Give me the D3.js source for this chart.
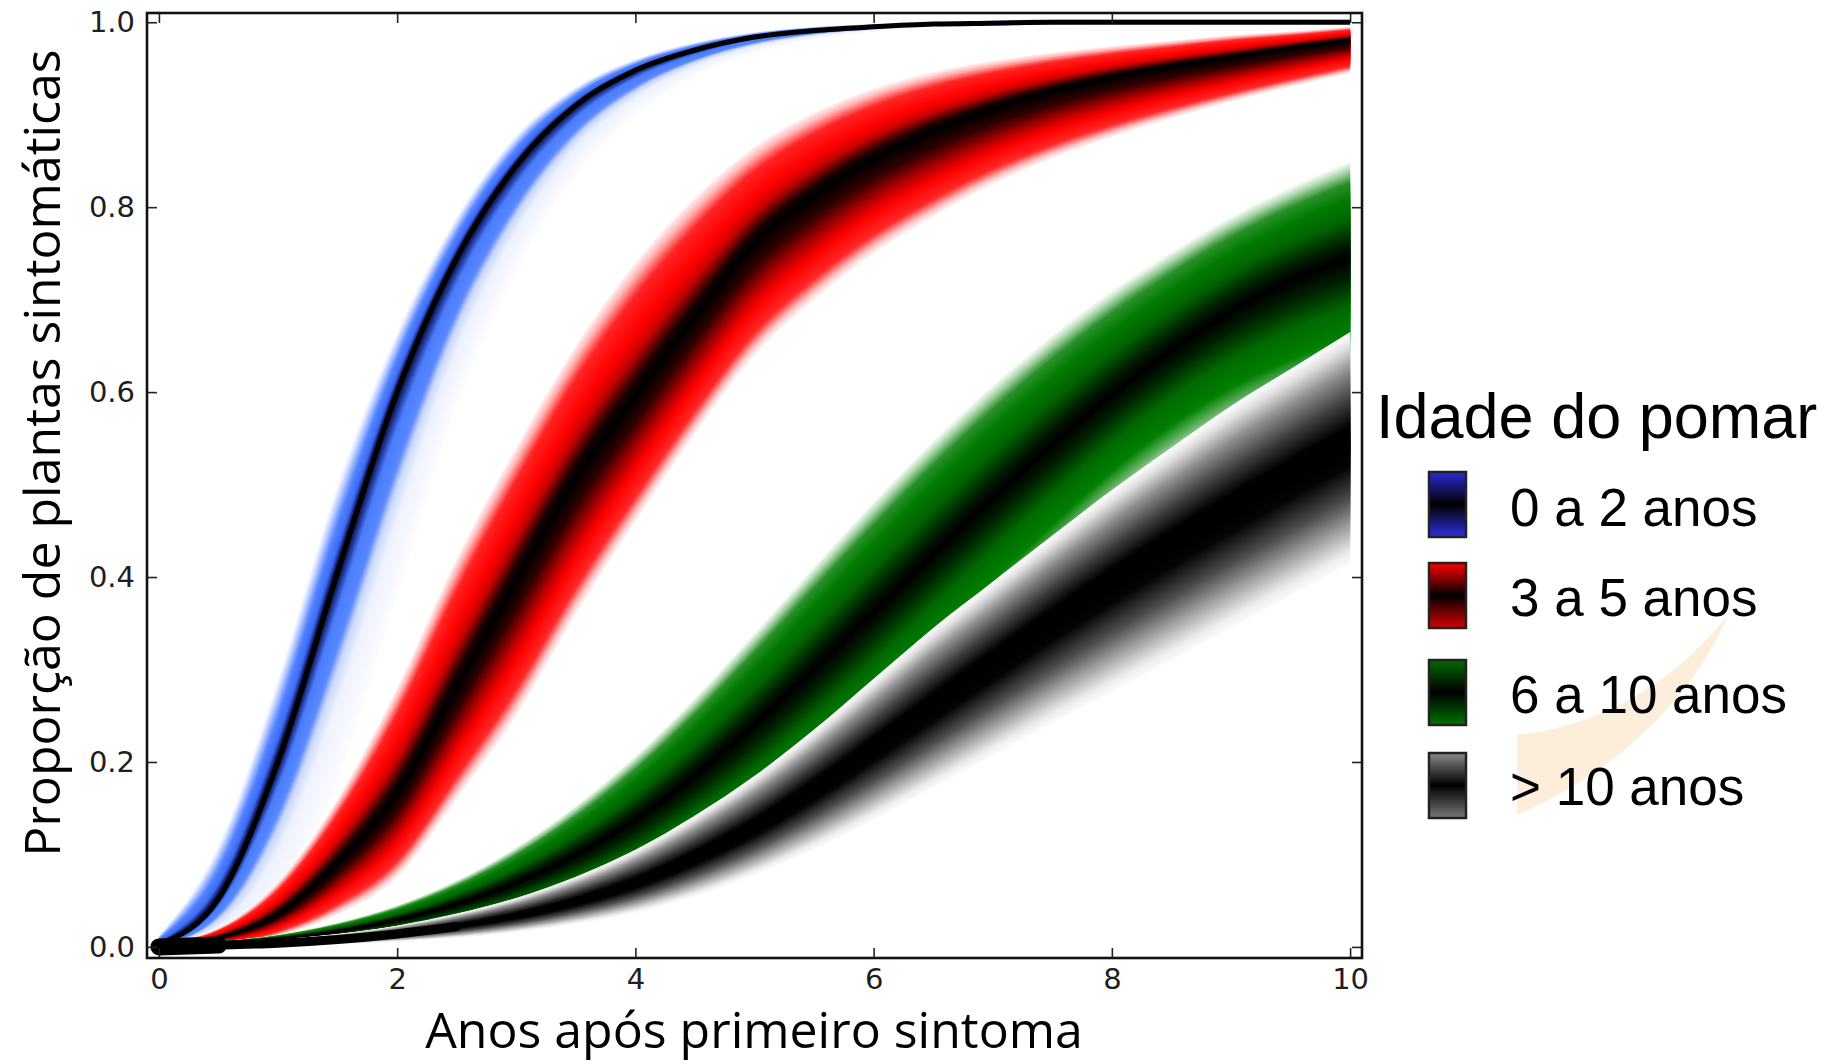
<!DOCTYPE html>
<html>
<head>
<meta charset="utf-8">
<script src="https://cdn.jsdelivr.net/npm/d3@7"></script>
<style>
  html, body { margin: 0; padding: 0; background: #fff; }
  svg { display: block; }
</style>
</head>
<body>
<svg id="chart" width="1834" height="1064"></svg>
<script>
// Years after the first symptom (x grid shared by every series)
const years = [0, 0.5, 1, 1.5, 2, 2.5, 3, 3.5, 4, 4.5, 5, 5.5, 6, 6.5, 7, 7.5, 8, 8.5, 9, 9.5, 10];

// Orchard-age groups shown in the legend
const groupLabels = ["0 a 2 anos", "3 a 5 anos", "6 a 10 anos", "> 10 anos"];

// Proportion of symptomatic plants: central curve and outer edges of each envelope
const blueMean  = [0.003, 0.052, 0.20, 0.405, 0.60, 0.745, 0.845, 0.91, 0.948, 0.97, 0.984, 0.991, 0.995, 0.998, 0.999, 1, 1, 1, 1, 1, 1];
const blueUpper = [0.012, 0.11, 0.29, 0.50, 0.665, 0.79, 0.878, 0.93, 0.96, 0.978, 0.989, 0.995, 0.998, 1.0, 1.002, 1.003, 1.003, 1.003, 1.003, 1.003, 1.003];
const blueLower = [0, 0.004, 0.045, 0.18, 0.38, 0.585, 0.73, 0.835, 0.9, 0.942, 0.967, 0.982, 0.99, 0.994, 0.996, 0.997, 0.998, 0.998, 0.999, 0.999, 0.999];

const redMean  = [0.002, 0.01, 0.035, 0.09, 0.165, 0.28, 0.395, 0.505, 0.595, 0.68, 0.76, 0.812, 0.852, 0.882, 0.906, 0.925, 0.94, 0.952, 0.962, 0.972, 0.981];
const redUpper = [0.004, 0.02, 0.07, 0.16, 0.28, 0.42, 0.54, 0.65, 0.74, 0.81, 0.865, 0.902, 0.928, 0.946, 0.958, 0.967, 0.974, 0.98, 0.986, 0.99, 0.995];
const redLower = [0, 0.003, 0.012, 0.035, 0.075, 0.16, 0.25, 0.36, 0.46, 0.555, 0.64, 0.70, 0.75, 0.79, 0.825, 0.853, 0.876, 0.896, 0.914, 0.93, 0.945];

const greenMean  = [0.002, 0.004, 0.009, 0.017, 0.029, 0.046, 0.069, 0.099, 0.137, 0.185, 0.24, 0.30, 0.362, 0.424, 0.485, 0.543, 0.597, 0.645, 0.687, 0.72, 0.745];
const greenUpper = [0.003, 0.006, 0.013, 0.026, 0.045, 0.072, 0.108, 0.153, 0.207, 0.27, 0.34, 0.412, 0.482, 0.548, 0.608, 0.662, 0.71, 0.752, 0.79, 0.822, 0.85];
const greenLower = [0.001, 0.002, 0.005, 0.008, 0.013, 0.02, 0.03, 0.045, 0.065, 0.095, 0.135, 0.185, 0.24, 0.30, 0.36, 0.42, 0.48, 0.53, 0.57, 0.60, 0.625];

const grayMean  = [0, 0.002, 0.004, 0.008, 0.014, 0.022, 0.033, 0.048, 0.068, 0.095, 0.128, 0.168, 0.212, 0.258, 0.303, 0.348, 0.39, 0.43, 0.468, 0.505, 0.54];
const grayUpper = [0.002, 0.004, 0.008, 0.014, 0.023, 0.036, 0.053, 0.076, 0.105, 0.142, 0.185, 0.235, 0.29, 0.345, 0.395, 0.445, 0.494, 0.54, 0.585, 0.625, 0.665];
const grayLower = [0, 0, 0.001, 0.003, 0.006, 0.01, 0.016, 0.025, 0.037, 0.055, 0.078, 0.106, 0.138, 0.172, 0.207, 0.242, 0.276, 0.31, 0.345, 0.38, 0.415];

// Axis ticks
const xTicks = [0, 2, 4, 6, 8, 10];
const yTicks = [0, 0.2, 0.4, 0.6, 0.8, 1.0];

// ---------------------------------------------------------------------------
const W = 1834, H = 1064;
const plot = { left: 147, right: 1362, top: 13, bottom: 958 };

const x = d3.scaleLinear().domain([-0.1, 10.1]).range([plot.left, plot.right]);
const y = d3.scaleLinear().domain([-0.012, 1.01]).range([plot.bottom, plot.top]);

const svg = d3.select("#chart");
svg.append("rect").attr("width", W).attr("height", H).attr("fill", "#fff");

const defs = svg.append("defs");
defs.append("clipPath").attr("id", "plot-clip")
  .append("rect")
  .attr("x", plot.left).attr("y", plot.top)
  .attr("width", plot.right - plot.left).attr("height", plot.bottom - plot.top);

// Colour ramps: distance from the central curve (0) to the envelope edge (1)
const series = [
  { mean: blueMean, upper: blueUpper, lower: blueLower, swatch: ["#2a2ad8", "#000000", "#3030e0"], core: 5,
    above: [[0, "#000000"], [0.12, "#101a60"], [0.28, "#3d6cf5"], [0.55, "#5585ff"], [0.75, "#a8bfff"], [0.9, "#e2e9ff"], [1, "#fbfcff"]],
    below: [[0, "#000000"], [0.07, "#1a2a80"], [0.18, "#4a7dff"], [0.36, "#5a88ff"], [0.46, "#c8d6ff"], [0.62, "#eef2ff"], [1, "#fcfcff"]] },
  { mean: redMean, upper: redUpper, lower: redLower, swatch: ["#ff0000", "#000000", "#d80000"], core: 3,
    above: [[0, "#000000"], [0.12, "#1a0000"], [0.32, "#c80000"], [0.48, "#ff0000"], [0.75, "#ff2424"], [0.9, "#ffb4b4"], [1, "#fff2f2"]],
    below: [[0, "#000000"], [0.2, "#300000"], [0.42, "#b00000"], [0.58, "#ff0000"], [0.8, "#ff2a2a"], [0.92, "#ffc0c0"], [1, "#fff6f6"]] },
  { mean: greenMean, upper: greenUpper, lower: greenLower, swatch: ["#006a00", "#000000", "#007400"], core: 3,
    above: [[0, "#000000"], [0.14, "#001800"], [0.4, "#006400"], [0.6, "#007a00"], [0.78, "#2a902a"], [0.9, "#a8d4a8"], [1, "#ffffff"]],
    below: [[0, "#000000"], [0.18, "#002000"], [0.45, "#006a00"], [0.7, "#008000"], [0.88, "#70b870"], [1, "#e8f4e8"]] },
  { mean: grayMean, upper: grayUpper, lower: grayLower, swatch: ["#8a8a8a", "#000000", "#7a7a7a"], core: 3,
    above: [[0, "#000000"], [0.18, "#000000"], [0.42, "#404040"], [0.68, "#909090"], [0.88, "#e0e0e0"], [1, "#ffffff"]],
    below: [[0, "#000000"], [0.16, "#050505"], [0.45, "#505050"], [0.7, "#a8a8a8"], [0.9, "#ececec"], [1, "#fafafa"]] }
];

const plotG = svg.append("g").attr("clip-path", "url(#plot-clip)");
const LEVELS = 48;

series.forEach(s => {
  const g = plotG.append("g");
  [[s.upper, s.above], [s.lower, s.below]].forEach(([edge, stops]) => {
    const ramp = d3.scaleLinear()
      .domain(stops.map(d => d[0]))
      .range(stops.map(d => d[1]))
      .interpolate(d3.interpolateRgb);
    for (let k = LEVELS; k >= 1; k--) {
      const t = k / LEVELS;
      const area = d3.area()
        .curve(d3.curveMonotoneX)
        .x((d, i) => x(years[i]))
        .y0((d, i) => y(d))
        .y1((d, i) => y(d + t * (edge[i] - d)));
      g.append("path")
        .datum(s.mean)
        .attr("d", area)
        .attr("fill", ramp(t - 0.5 / LEVELS));
    }
  });
  const line = d3.line().curve(d3.curveMonotoneX)
    .x((d, i) => x(years[i]))
    .y(d => y(d));
  g.append("path")
    .datum(s.mean)
    .attr("d", line)
    .attr("fill", "none")
    .attr("stroke", "#000")
    .attr("stroke-width", s.core)
    .attr("stroke-linejoin", "round");
});

// Overlapping start markers where all curves begin at zero
const startLine = d3.line().curve(d3.curveMonotoneX).x((d, i) => x(years[i])).y(d => y(d));
plotG.append("path")
  .datum(grayMean.slice(0, 2))
  .attr("d", startLine)
  .attr("fill", "none")
  .attr("stroke", "#000")
  .attr("stroke-width", 17)
  .attr("stroke-linecap", "round");
plotG.append("path")
  .datum(grayMean.slice(0, 6))
  .attr("d", startLine)
  .attr("fill", "none")
  .attr("stroke", "#000")
  .attr("stroke-width", 9)
  .attr("stroke-linecap", "round");

// Axes with inward ticks on all four sides
const tickFont = "DejaVu Sans, sans-serif";
function styleAxis(sel) {
  sel.select(".domain").remove();
  sel.selectAll(".tick line").attr("stroke", "#222").attr("stroke-width", 1.6);
  sel.selectAll(".tick text")
    .attr("font-family", tickFont)
    .attr("font-size", 29)
    .attr("fill", "#1e1e1e");
}

svg.append("g")
  .attr("transform", `translate(0,${plot.bottom})`)
  .call(d3.axisBottom(x).tickValues(xTicks).tickSize(-10).tickPadding(10).tickFormat(d3.format("d")))
  .call(styleAxis);

svg.append("g")
  .attr("transform", `translate(${plot.left},0)`)
  .call(d3.axisLeft(y).tickValues(yTicks).tickSize(-10).tickPadding(12).tickFormat(d3.format(".1f")))
  .call(styleAxis);

svg.append("g")
  .attr("transform", `translate(0,${plot.top})`)
  .call(d3.axisTop(x).tickValues(xTicks).tickSize(-10).tickFormat(""))
  .call(styleAxis);

svg.append("g")
  .attr("transform", `translate(${plot.right},0)`)
  .call(d3.axisRight(y).tickValues(yTicks).tickSize(-10).tickFormat(""))
  .call(styleAxis);

svg.append("rect")
  .attr("x", plot.left).attr("y", plot.top)
  .attr("width", plot.right - plot.left).attr("height", plot.bottom - plot.top)
  .attr("fill", "none")
  .attr("stroke", "#111")
  .attr("stroke-width", 2.6);

// Axis titles
const titleFont = "'Open Sans', 'Noto Sans', sans-serif";
svg.append("text")
  .attr("x", 754).attr("y", 1048)
  .attr("text-anchor", "middle")
  .attr("font-family", titleFont)
  .attr("font-size", 50)
  .attr("fill", "#000")
  .text("Anos após primeiro sintoma");

svg.append("text")
  .attr("transform", "translate(60,453) rotate(-90)")
  .attr("text-anchor", "middle")
  .attr("font-family", titleFont)
  .attr("font-size", 50)
  .attr("fill", "#000")
  .text("Proporção de plantas sintomáticas");

// Faint swoosh emblem behind the legend
svg.append("path")
  .attr("d", "M1517,735 C1580,728 1660,700 1728,615 C1700,680 1640,760 1517,815 Z")
  .attr("fill", "#fdebd7")
  .attr("opacity", 0.9);

// Legend
const legendFont = "'Liberation Sans', Arial, sans-serif";
svg.append("text")
  .attr("x", 1376).attr("y", 438)
  .attr("font-family", legendFont)
  .attr("font-size", 63)
  .attr("fill", "#000")
  .text("Idade do pomar");

const swatchTops = [472, 563, 660, 753];
const labelBaselines = [526, 616, 713, 805];

series.forEach((s, i) => {
  const gid = "swatch-grad-" + i;
  const grad = defs.append("linearGradient").attr("id", gid)
    .attr("x1", 0).attr("y1", 0).attr("x2", 0).attr("y2", 1);
  grad.append("stop").attr("offset", "0%").attr("stop-color", s.swatch[0]);
  grad.append("stop").attr("offset", "50%").attr("stop-color", s.swatch[1]);
  grad.append("stop").attr("offset", "100%").attr("stop-color", s.swatch[2]);

  svg.append("rect")
    .attr("x", 1429).attr("y", swatchTops[i])
    .attr("width", 37).attr("height", 65)
    .attr("fill", `url(#${gid})`)
    .attr("stroke", "#222")
    .attr("stroke-width", 2.5);

  svg.append("text")
    .attr("x", 1510).attr("y", labelBaselines[i])
    .attr("font-family", legendFont)
    .attr("font-size", 53)
    .attr("fill", "#000")
    .text(groupLabels[i]);
});
</script>
</body>
</html>
